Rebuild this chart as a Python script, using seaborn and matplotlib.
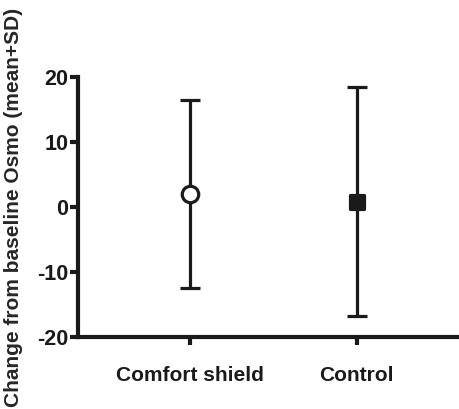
import matplotlib
matplotlib.use("Agg")
import matplotlib.pyplot as plt
import seaborn as sns
import pandas as pd

categories = ["Comfort shield", "Control"]
means = [2.0, 0.8]
sds = [14.5, 17.6]
markers = ["o", "s"]
facecolors = ["white", "#1a1a1a"]
marker_sizes = [140, 95]
yticks = [-20, -10, 0, 10, 20]

sns.set_style("ticks")
plt.rcParams['font.family'] = ['Liberation Sans', 'DejaVu Sans']
plt.rcParams['font.weight'] = 'bold'

df = pd.DataFrame({"group": categories, "mean": means, "sd": sds})

fig = plt.figure(figsize=(4.6, 4.09), dpi=100)
ax = fig.add_axes([0.17, 0.176, 0.83, 0.636])
c = "#1a1a1a"

ax.errorbar(range(len(categories)), df["mean"], yerr=df["sd"], fmt="none",
            ecolor=c, elinewidth=2.3, capsize=7, capthick=2.3, zorder=2)
for i, (m, fc, sz) in enumerate(zip(markers, facecolors, marker_sizes)):
    sub = df.iloc[[i]]
    sns.scatterplot(x=[i], y=sub["mean"].values, marker=m, s=sz,
                    facecolor=fc, edgecolor=c, linewidth=2.3, ax=ax, zorder=3)

ax.set_xlim(-0.67, 1.62)
ax.set_ylim(-20, 20)
ax.set_xticks(range(len(categories)))
ax.set_xticklabels(categories, fontsize=15, fontweight='bold')
ax.set_yticks(yticks)
ax.set_yticklabels([str(t) for t in yticks], fontsize=15.5, fontweight='bold')
ax.set_ylabel("Change from baseline Osmo (mean+SD)", fontsize=15, fontweight='bold', labelpad=10)
ax.set_xlabel("")
for s in ["top", "right"]:
    ax.spines[s].set_visible(False)
for s in ["left", "bottom"]:
    ax.spines[s].set_linewidth(3)
    ax.spines[s].set_color(c)
ax.tick_params(axis='both', width=3, length=6, color=c, labelcolor=c)
ax.tick_params(axis='x', pad=15)
ax.tick_params(axis='y', pad=1)

fig.savefig("out.png", dpi=100)
